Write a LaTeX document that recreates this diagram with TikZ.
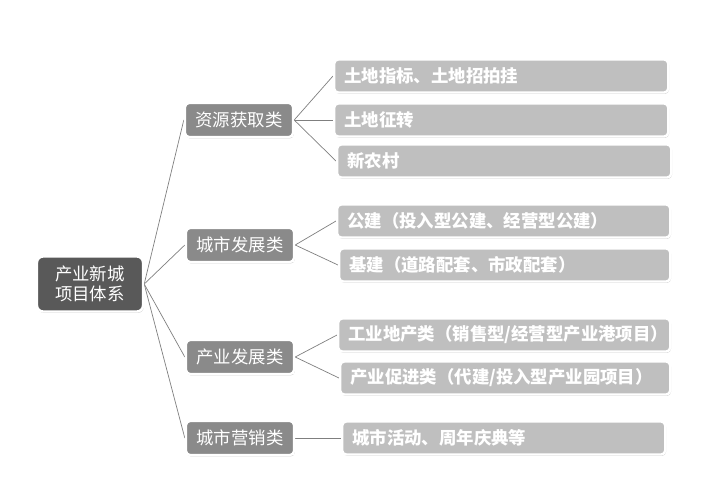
\documentclass[tikz,border=0pt]{standalone}
\usepackage{fontspec}
\setmainfont{Noto Sans CJK SC}
\usepackage{tikz}
\usetikzlibrary{positioning,shadows,backgrounds}
\definecolor{rootgray}{HTML}{595959}
\definecolor{catgray}{HTML}{8A8A8A}
\definecolor{leafgray}{HTML}{BFBFBF}
\definecolor{linkgray}{HTML}{7F7F7F}

\begin{document}
\begin{tikzpicture}[
    x=1pt, y=-1pt,
    every node/.style={font=\fontsize{17.4}{20}\selectfont, text=white},
    box/.style={draw=white, line width=2.4pt, rounded corners=4pt, inner sep=0pt,
                drop shadow={shadow xshift=0.8pt, shadow yshift=-1.4pt, opacity=0.4}},
    rootbox/.style={box, fill=rootgray, minimum width=106pt, minimum height=55pt,
                align=center, rounded corners=6pt},
    catbox/.style={box, fill=catgray, minimum width=108pt, minimum height=34pt},
    leafbox/.style={box, fill=leafgray, minimum height=33pt, anchor=west, inner xsep=10pt,
                text width=#1, align=left, font=\fontsize{17.4}{20}\selectfont\bfseries},
    leafbox/.default=314pt,
    link/.style={draw=linkgray, line width=0.7pt},
]
    \useasboundingbox (0,0) rectangle (702,491);

    \node[rootbox] (root) at (90,284) {产业新城\\项目体系};

    \node[catbox] (c1) at (239,120) {资源获取类};
    \node[catbox] (c2) at (240,245) {城市发展类};
    \node[catbox] (c3) at (240,357) {产业发展类};
    \node[catbox] (c4) at (240,438) {城市营销类};

    \node[leafbox] (l1) at (333,76) {土地指标、土地招拍挂};
    \node[leafbox] (l2) at (333,120) {土地征转};
    \node[leafbox] (l3) at (336,161) {新农村};
    \node[leafbox=313pt] (l4) at (336,221) {公建（投入型公建、经营型公建）};
    \node[leafbox=311pt] (l5) at (338,265) {基建（道路配套、市政配套）};
    \node[leafbox=312pt] (l6) at (337,335) {工业地产类（销售型/经营型产业港项目）};
    \node[leafbox=310pt] (l7) at (339,378) {产业促进类（代建/投入型产业园项目）};
    \node[leafbox=303pt] (l8) at (341,438) {城市活动、周年庆典等};

    \begin{scope}[on background layer]
        \foreach \c in {c1,c2,c3,c4}
            \draw[link] (root.east) -- (\c.west);
        \foreach \c/\l in {c1/l1,c1/l2,c1/l3,c2/l4,c2/l5,c3/l6,c3/l7,c4/l8}
            \draw[link] (\c.east) -- (\l.west);
    \end{scope}
\end{tikzpicture}
\end{document}
